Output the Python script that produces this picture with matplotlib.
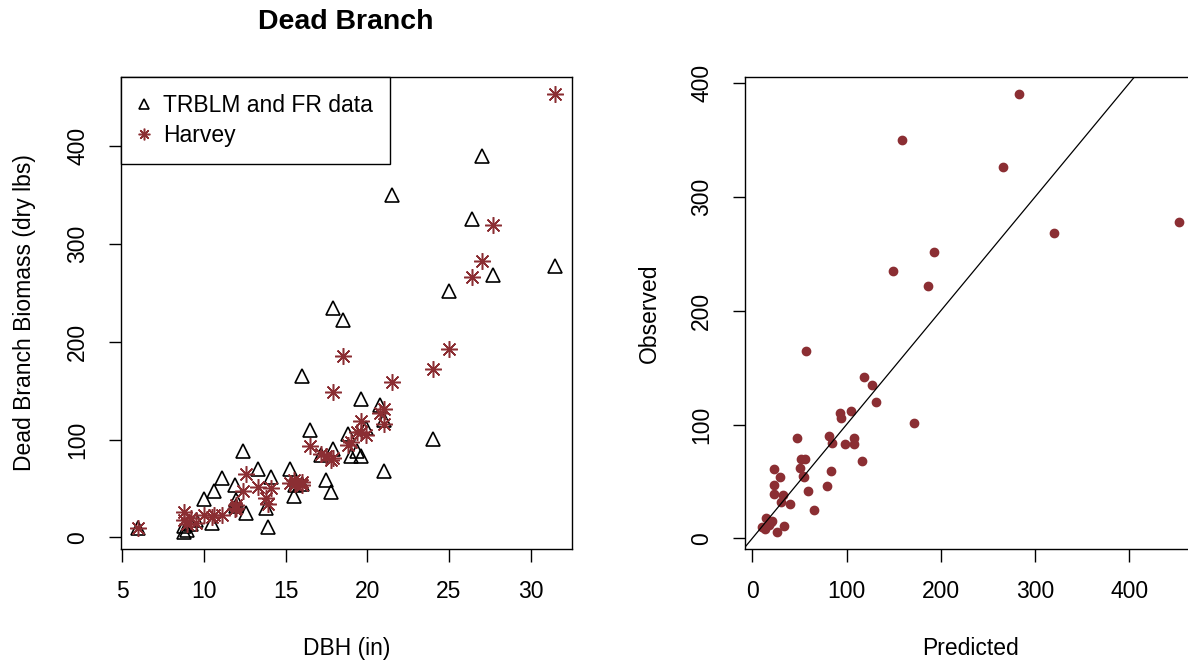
import numpy as np
import matplotlib.pyplot as plt

plt.rcParams['font.family'] = ['Liberation Sans', 'DejaVu Sans']

# tree diameter (in), observed dead branch biomass and Harvey prediction (dry lbs)
dbh = [31.5, 27.0, 26.4, 27.7, 25.0, 21.5, 24.0, 17.9, 18.5, 16.0,
       19.6, 20.8, 21.0, 19.9, 16.5, 18.8, 21.0, 19.4, 19.6, 19.0,
       17.9, 17.2, 12.4, 17.5, 17.8, 13.3, 15.3, 14.1, 11.1, 11.9,
       15.6, 10.6, 10.0, 12.0, 15.5, 13.8, 12.6, 13.9, 9.2, 10.5,
       8.8, 8.8, 5.96, 9.0, 9.5, 12.0, 16.0]
observed = [278, 390, 326, 268, 252, 350, 101, 235, 222, 165,
            142, 135, 120, 112, 110, 106, 68, 88, 83, 83,
            90, 84, 88, 59, 46, 70, 70, 62, 61, 54,
            54, 47, 39, 38, 42, 30, 25, 11, 14, 15,
            6, 12, 10, 8, 18, 32, 55]
predicted = [453, 283, 266, 320, 193, 159, 172, 149, 186, 57,
             119, 127, 131, 105, 93, 94, 116, 108, 108, 98,
             81, 85, 47, 83, 79, 52, 56, 51, 23, 29,
             55, 23, 23, 33, 59, 40, 65, 34, 20, 21,
             26, 18, 10, 14, 15, 30, 54]

dbh = np.array(dbh)
observed = np.array(observed)
predicted = np.array(predicted)

red = '#8B2E33'
fs = 16.5


def r_lims(*arrays):
    lo = min(a.min() for a in arrays)
    hi = max(a.max() for a in arrays)
    pad = 0.04 * (hi - lo)
    return lo - pad, hi + pad


fig = plt.figure(figsize=(11.88, 6.64), dpi=100)
W, H = 1188, 664
ax1 = fig.add_axes([121 / W, 1 - 549 / H, 451 / W, 472 / H])
ax2 = fig.add_axes([745 / W, 1 - 549 / H, 451 / W, 472 / H])

# left panel: biomass against DBH
ax1.plot(dbh, observed, linestyle='none', marker='^', markersize=10.5,
         markerfacecolor='none', markeredgecolor='black', markeredgewidth=1.2,
         label='TRBLM and FR data')
ax1.plot(dbh, predicted, linestyle='none', marker=(8, 2, 0), markersize=12,
         markeredgecolor=red, markeredgewidth=1.1, color=red, label='Harvey')
ax1.set_xlim(*r_lims(dbh))
ax1.set_ylim(*r_lims(observed, predicted))
ax1.set_xticks([5, 10, 15, 20, 25, 30])
ax1.set_yticks([0, 100, 200, 300, 400])
ax1.set_xlabel('DBH (in)', fontsize=fs, va='center')
ax1.set_ylabel('Dead Branch Biomass (dry lbs)', fontsize=fs, va='center')
leg = ax1.legend(loc='upper left', borderaxespad=0, fontsize=fs, fancybox=False,
                 edgecolor='black', framealpha=1, handletextpad=0.6,
                 borderpad=0.75, labelspacing=0.3, handlelength=0.5,
                 markerscale=0.7)
leg.get_frame().set_linewidth(1.0)
fig.text(346 / W, 1 - 22 / H, 'Dead Branch', fontsize=20.5, fontweight='bold',
         ha='center', va='center')

# right panel: observed against predicted with 1:1 line
ax2.plot(predicted, observed, linestyle='none', marker='o', markersize=6,
         color=red)
ax2.axline((0, 0), slope=1, color='black', linewidth=0.9)
ax2.set_xlim(*r_lims(predicted))
ax2.set_ylim(*r_lims(observed))
ax2.set_xticks([0, 100, 200, 300, 400])
ax2.set_yticks([0, 100, 200, 300, 400])
ax2.set_xlabel('Predicted', fontsize=fs, va='center')
ax2.set_ylabel('Observed', fontsize=fs, va='center')

for ax in (ax1, ax2):
    for s in ax.spines.values():
        s.set_linewidth(1.0)
    ax.tick_params(length=9, width=1.0, labelsize=fs)
    ax.tick_params(axis='x', pad=13)
    ax.tick_params(axis='y', pad=14)
    for lab in ax.get_yticklabels():
        lab.set_rotation(90)
        lab.set_va('center')
    ax.xaxis.set_label_coords(0.5, -0.21)
    ax.yaxis.set_label_coords(-0.213, 0.5)

fig.savefig('out.png', dpi=100)
